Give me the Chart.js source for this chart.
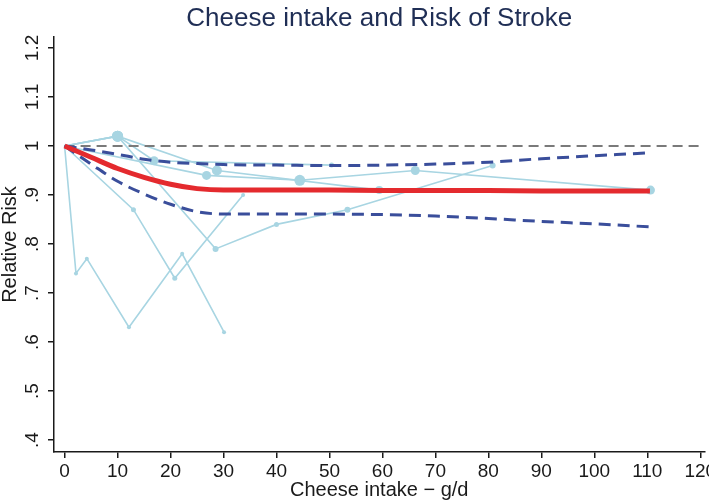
<!DOCTYPE html>
<html><head><meta charset="utf-8">
<script src="https://cdn.jsdelivr.net/npm/chart.js@4.4.1/dist/chart.umd.min.js"></script>
<style>html,body{margin:0;padding:0;background:#fff;overflow:hidden}</style>
</head><body>
<canvas id="c" width="709" height="503"></canvas>
<script>
// ---------- data ----------
const titleText = 'Cheese intake and Risk of Stroke';
const xTitle = 'Cheese intake \u2212 g/d';
const yTitle = 'Relative Risk';
const xTicks = [0,10,20,30,40,50,60,70,80,90,100,110,120];
const yTickValues = [0.4,0.5,0.6,0.7,0.8,0.9,1.0,1.1,1.2];
const yTickLabels = ['.4','.5','.6','.7','.8','.9','1','1.1','1.2'];

// pooled dose-response curve and 95% CI
const doseGrid = [0,5,10,15,20,25,30,40,50,60,70,80,90,100,110.5];
const pooledRR = [1,0.977,0.954,0.936,0.922,0.913,0.910,0.910,0.910,0.909,0.909,0.909,0.908,0.908,0.908];
const upperCI  = [1,0.992,0.983,0.973,0.967,0.964,0.962,0.961,0.960,0.961,0.963,0.967,0.974,0.980,0.986];
const lowerCI  = [1,0.963,0.928,0.902,0.881,0.866,0.861,0.861,0.861,0.860,0.857,0.852,0.846,0.841,0.835];

// reference line RR = 1
const refDose = [0,120.8];
const refRR = [1,1];

// individual studies
const s1Dose = [0,2.15,4.2,12.15,22.2,30.1];
const s1RR   = [1,0.74,0.77,0.63,0.78,0.62];
const s2Dose = [0,13,20.8,33.7];
const s2RR   = [1,0.87,0.73,0.90];
const s3Dose = [0,10,28.5,40,53.4,80.8];
const s3RR   = [1,1.02,0.79,0.84,0.87,0.96];
const s4Dose = [0,10,16.9,50.4];
const s4RR   = [1,1.02,0.97,0.961];
const s5Dose = [0,10,28.75,59.4];
const s5RR   = [1,1.02,0.95,0.91];
const s6Dose = [0,26.8,44.4,66.2,110.6];
const s6RR   = [1,0.94,0.93,0.95,0.91];

// ---------- styling ----------
const FONT = "'Liberation Sans', Arial, Helvetica, sans-serif";
const studyColor = '#a8d5e2';
const s1Radius = [0,2,2,2,2,2];
const s2Radius = [0,2.5,2.5,2];
const s3Radius = [0,5.5,3,2.5,3,3];
const s4Radius = [0,5.5,4.5,2.5];
const s5Radius = [0,5.5,5,4];
const s6Radius = [0,4.5,5.5,4.5,4.5];

const pts = (xs, ys) => xs.map((x, i) => ({x: x, y: ys[i]}));

function studyDS(xs, ys, radii) {
  return {
    data: pts(xs, ys), borderColor: studyColor, backgroundColor: studyColor,
    borderWidth: 1.6, pointRadius: radii, pointBorderWidth: 0,
    pointBackgroundColor: studyColor, tension: 0, order: 3
  };
}

const datasets = [
  studyDS(s1Dose, s1RR, s1Radius),
  studyDS(s2Dose, s2RR, s2Radius),
  studyDS(s3Dose, s3RR, s3Radius),
  studyDS(s4Dose, s4RR, s4Radius),
  studyDS(s5Dose, s5RR, s5Radius),
  studyDS(s6Dose, s6RR, s6Radius),
  { data: pts(refDose, refRR), borderColor: '#7a7a7a', borderWidth: 2,
    borderDash: [10, 6], pointRadius: 0, order: 2 },
  { data: pts(doseGrid, upperCI), borderColor: '#3a4e9b', borderWidth: 3,
    borderDash: [12, 7], pointRadius: 0, cubicInterpolationMode: 'monotone', order: 1 },
  { data: pts(doseGrid, lowerCI), borderColor: '#3a4e9b', borderWidth: 3,
    borderDash: [12, 7], pointRadius: 0, cubicInterpolationMode: 'monotone', order: 1 },
  { data: pts(doseGrid, pooledRR), borderColor: '#e42a2e', borderWidth: 5,
    pointRadius: 0, cubicInterpolationMode: 'monotone', order: 0 }
];

const rotatedYLabels = {
  id: 'rotatedYLabels',
  afterDraw(chart) {
    const ys = chart.scales.y, ctx = chart.ctx;
    ctx.save();
    ctx.fillStyle = '#1a1a1a';
    ctx.font = '19px ' + FONT;
    ctx.textAlign = 'center';
    ctx.textBaseline = 'middle';
    yTickValues.forEach((v, i) => {
      const py = ys.getPixelForValue(v);
      ctx.save();
      ctx.translate(ys.left + 33, py);
      ctx.rotate(-Math.PI / 2);
      ctx.fillText(yTickLabels[i], 0, 0);
      ctx.restore();
    });
    ctx.restore();
  }
};

new Chart(document.getElementById('c'), {
  type: 'line',
  data: { datasets: datasets },
  plugins: [rotatedYLabels],
  options: {
    responsive: false, animation: false, devicePixelRatio: 1,
    layout: { padding: { left: 0, right: 4, top: 0, bottom: 0 } },
    plugins: {
      legend: { display: false }, tooltip: { enabled: false },
      title: { display: true, text: titleText, fullSize: false, color: '#1f2e55',
               font: { family: FONT, size: 26, weight: 'normal', lineHeight: 1.2 },
               padding: { top: 3, bottom: 2.8 } }
    },
    scales: {
      x: {
        type: 'linear', min: -2, max: 120.8,
        afterBuildTicks: s => { s.ticks = xTicks.map(v => ({value: v})); },
        afterFit: s => { s.height = 51; s.paddingLeft = 0; s.paddingRight = 0; },
        grid: { display: true, drawOnChartArea: false, drawTicks: true, tickLength: 6, color: '#1a1a1a', lineWidth: 1.5 },
        border: { display: true, color: '#1a1a1a', width: 1.5 },
        ticks: { color: '#1a1a1a', font: { family: FONT, size: 19 }, padding: 2, maxRotation: 0, minRotation: 0, autoSkip: false,
                 callback: v => String(v) },
        title: { display: true, text: xTitle, color: '#1a1a1a', font: { family: FONT, size: 20, lineHeight: 1.2 },
                 padding: { top: 0, bottom: 1 } }
      },
      y: {
        type: 'linear', min: 0.3755, max: 1.2224,
        afterBuildTicks: s => { s.ticks = yTickValues.map(v => ({value: v})); },
        afterFit: s => { s.width = 54; s.paddingTop = 0; s.paddingBottom = 0; },
        grid: { display: true, drawOnChartArea: false, drawTicks: true, tickLength: 6, color: '#1a1a1a', lineWidth: 1.5 },
        border: { display: true, color: '#1a1a1a', width: 1.5 },
        ticks: { display: false },
        title: { display: true, text: yTitle, color: '#1a1a1a', font: { family: FONT, size: 20, lineHeight: 1.0 },
                 padding: { top: 0, bottom: 0 } }
      }
    }
  }
});
</script>
</body></html>
